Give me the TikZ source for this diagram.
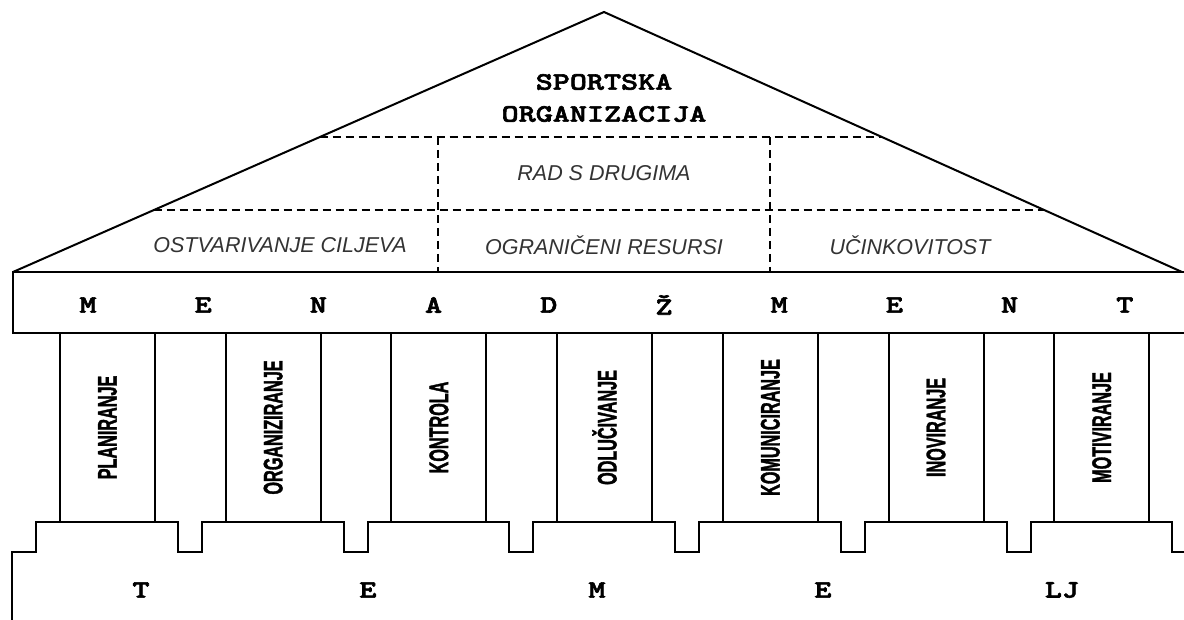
\documentclass[tikz,border=0pt]{standalone}
\usepackage{fontspec}
\setmainfont{Liberation Sans}
\setsansfont{Liberation Sans}
\newfontfamily\slabfont[FakeStretch=1.3,FakeBold=2.5]{lmmonolt10-bold.otf}
\newfontfamily\pillarfont[FakeStretch=0.6,FakeBold=1.2]{Liberation Sans Bold}
\usepackage{tikz}
\usetikzlibrary{positioning}
\usetikzlibrary{calc}
\definecolor{roofgray}{HTML}{333333}

\begin{document}
\begin{tikzpicture}[x=1pt,y=-1pt,line width=2pt,
  slab/.style={font=\slabfont\fontsize{25}{32}\selectfont,inner sep=0pt},
  roof text/.style={font=\sffamily\itshape\fontsize{21.5}{21.5}\selectfont,text=roofgray,inner sep=0pt},
  dashline/.style={dashed,dash pattern=on 8pt off 5pt,line width=1.8pt},
  pillar/.style={draw,rectangle,minimum width=95pt,minimum height=189pt,inner sep=0pt,
    font=\pillarfont\fontsize{27}{27}\selectfont}]

  \useasboundingbox[fill=white] (0,0) rectangle (1184,620);

  % roof
  \coordinate (eaveL) at (13,272);
  \coordinate (apex) at (604,12);
  \coordinate (eaveR) at (1182,272);
  \draw[line join=miter] (eaveL) -- (apex) -- (eaveR);
  \draw[dashline] ($(eaveL)!0.519!(apex)$) -- ($(eaveR)!0.519!(apex)$);
  \draw[dashline] ($(eaveL)!0.238!(apex)$) -- ($(eaveR)!0.238!(apex)$);
  \draw[dashline] (438,137) -- (438,272);
  \draw[dashline] (770,137) -- (770,272);

  \node[slab,align=center] (org) at (604,98) {SPORTSKA\\ORGANIZACIJA};
  \node[roof text] (rad) at (604,173) {RAD S DRUGIMA};
  \node[roof text] (cilj) at (280,245) {OSTVARIVANJE CILJEVA};
  \node[roof text] (res) at (604,245) {OGRANIČENI RESURSI};
  \node[roof text] (ucin) at (910,245) {UČINKOVITOST};

  % beam
  \node[draw,rectangle,minimum width=1177pt,minimum height=61pt,inner sep=0pt] (beam) at (601.5,302.5) {};
  \begin{scope}[node distance=115.2pt]
    \node[slab] (m1) at (88,305) {M};
    \node[slab] (e1) [right of=m1] {E};
    \node[slab] (n1) [right of=e1] {N};
    \node[slab] (a1) [right of=n1] {A};
    \node[slab] (d1) [right of=a1] {D};
    \node[slab] (z1) [right of=d1] {Ž};
    \node[slab] (m2) [right of=z1] {M};
    \node[slab] (e2) [right of=m2] {E};
    \node[slab] (n2) [right of=e2] {N};
    \node[slab] (t1) [right of=n2] {T};
  \end{scope}

  % pillars
  \begin{scope}[node distance=165.7pt]
    \node[pillar] (plan) at (107.5,427.5) {\rotatebox{90}{PLANIRANJE}};
    \node[pillar] (orgz) [right of=plan] {\rotatebox{90}{ORGANIZIRANJE}};
    \node[pillar] (kont) [right of=orgz] {\rotatebox{90}{KONTROLA}};
    \node[pillar] (odlu) [right of=kont] {\rotatebox{90}{ODLUČIVANJE}};
    \node[pillar] (komu) [right of=odlu] {\rotatebox{90}{KOMUNICIRANJE}};
    \node[pillar] (inov) [right of=komu] {\rotatebox{90}{INOVIRANJE}};
    \node[pillar] (moti) [right of=inov] {\rotatebox{90}{MOTIVIRANJE}};
  \end{scope}
  \draw (moti.north east) ++(71,0) -- ++(0,189);

  % base
  \draw[line join=miter] (12,625) -- (12,552) -- (36,552) -- (36,522)
    -- (178,522) -- (178,552) -- (202,552) -- (202,522)
    -- (344,522) -- (344,552) -- (368,552) -- (368,522)
    -- (509,522) -- (509,552) -- (533,552) -- (533,522)
    -- (675,522) -- (675,552) -- (699,552) -- (699,522)
    -- (841,522) -- (841,552) -- (865,552) -- (865,522)
    -- (1007,522) -- (1007,552) -- (1031,552) -- (1031,522)
    -- (1172,522) -- (1172,552) -- (1190,552);

  \node[slab] (t2) at (141,590) {T};
  \node[slab] (e3) at (368,590) {E};
  \node[slab] (m3) at (597,590) {M};
  \node[slab] (e4) at (823,590) {E};
  \node[slab] (lj) at (1062,590) {LJ};
\end{tikzpicture}
\end{document}
